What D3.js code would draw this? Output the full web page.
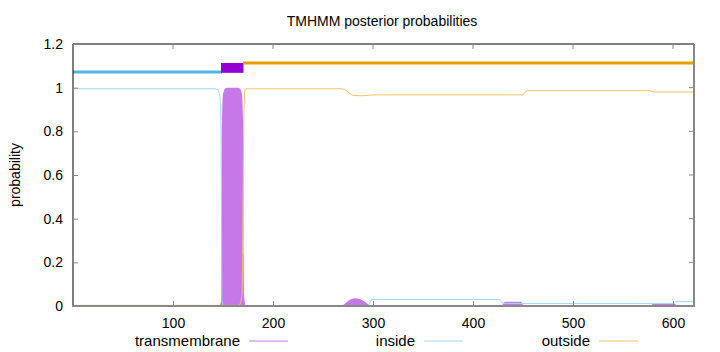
<!DOCTYPE html>
<html>
<head>
<meta charset="utf-8">
<script src="https://cdn.jsdelivr.net/npm/d3@7"></script>
<style>
body{margin:0;background:#fff;}
text{font-family:"Liberation Sans",Arial,sans-serif;}
</style>
</head>
<body>
<div id="chart"></div>
<script>
// posterior probabilities, breakpoints
var tmPos=[1,146,148,149,150,152,154,165,167,169,170,171,173,212,214,228,230,268,274,282,290,296,298,428,432,448,451,578,580,602,604,621];
var tmVal=[0,0,0.02,0.85,0.97,0.995,1,1,0.995,0.97,0.85,0.05,0,0,0.004,0.004,0,0,0.02,0.035,0.025,0.005,0,0,0.02,0.02,0,0,0.01,0.01,0,0];

var inPos=[1,141,145,147,148,149,151,295,298,300,426,430,600,603,621];
var inVal=[0.995,0.995,0.99,0.95,0.8,0.02,0,0,0.025,0.03,0.03,0.012,0.012,0.02,0.02];

var outPos=[1,166,169,171,172,174,268,272,280,290,300,450,452,454,578,580,621];
var outVal=[0.003,0.003,0.05,0.9,0.99,0.995,0.995,0.99,0.965,0.963,0.967,0.967,0.98,0.986,0.986,0.98,0.98];

// predicted topology on top
var topoType=["inside","TMhelix","outside"];
var topoStart=[1,149,171];
var topoEnd=[148,170,621];

var xTicks=[100,200,300,400,500,600];
var yTicks=[0,0.2,0.4,0.6,0.8,1,1.2];
var legendNames=["transmembrane","inside","outside"];

var width=720,height=352;
var svg=d3.select("#chart").append("svg").attr("width",width).attr("height",height);

var x=d3.scaleLinear().domain([0,621]).range([73,694]);
var y=d3.scaleLinear().domain([0,1.2]).range([306,44]);

var cTm="#c678e8",cIn="#9fd6f2",cOut="#f3c26a";

function pts(p,v){return p.map(function(d,i){return [d,v[i]];});}

// transmembrane drawn as filled impulses
var area=d3.area().x(function(d){return x(d[0]);}).y0(y(0)).y1(function(d){return y(d[1]);}).curve(d3.curveMonotoneX);
svg.append("path").attr("d",area(pts(tmPos,tmVal))).attr("fill",cTm);

var line=d3.line().x(function(d){return x(d[0]);}).y(function(d){return y(d[1]);}).curve(d3.curveMonotoneX);
svg.append("path").attr("d",line(pts(inPos,inVal))).attr("fill","none").attr("stroke",cIn).attr("stroke-width",1);
svg.append("path").attr("d",line(pts(outPos,outVal))).attr("fill","none").attr("stroke",cOut).attr("stroke-width",1);

// topology bar
topoType.forEach(function(t,i){
	if(t=="TMhelix"){
		svg.append("rect").attr("x",x(topoStart[i])-1).attr("y",y(1.113))
			.attr("width",x(topoEnd[i])-x(topoStart[i])+1.5).attr("height",y(1.068)-y(1.113))
			.attr("fill","#9400d3");
	}else{
		var yy=t=="inside"?y(1.072):y(1.113);
		svg.append("line").attr("x1",x(topoStart[i])-1).attr("x2",x(topoEnd[i])+1)
			.attr("y1",yy).attr("y2",yy)
			.attr("stroke",t=="inside"?"#56b4e9":"#e69f00").attr("stroke-width",3);
	}
});

// frame
svg.append("line").attr("x1",73).attr("x2",73).attr("y1",44).attr("y2",306).attr("stroke","#000");
svg.append("line").attr("x1",73).attr("x2",694).attr("y1",44).attr("y2",44).attr("stroke","#000");
svg.append("line").attr("x1",694).attr("x2",694).attr("y1",44).attr("y2",307).attr("stroke","#888").attr("stroke-width",2);
svg.append("line").attr("x1",72).attr("x2",695).attr("y1",306).attr("y2",306).attr("stroke","#888").attr("stroke-width",2);

// axes
var xa=svg.append("g").attr("transform","translate(0,306)")
	.call(d3.axisBottom(x).tickValues(xTicks).tickSizeInner(-5).tickSizeOuter(0).tickPadding(12));
var ya=svg.append("g").attr("transform","translate(73,0)")
	.call(d3.axisLeft(y).tickValues(yTicks).tickSizeInner(-5).tickSizeOuter(0).tickPadding(10).tickFormat(d3.format("~g")));
[xa,ya].forEach(function(a){
	a.select(".domain").remove();
	a.selectAll("line").attr("stroke","#888");
	a.selectAll("text").attr("font-size",14).attr("fill","#000").attr("font-family","Liberation Sans,Arial,sans-serif");
});
// mirrored ticks
svg.selectAll(".mx").data(xTicks).enter().append("line")
	.attr("x1",x).attr("x2",x).attr("y1",44).attr("y2",49).attr("stroke","#888");
svg.selectAll(".my").data(yTicks).enter().append("line")
	.attr("x1",689).attr("x2",694).attr("y1",y).attr("y2",y).attr("stroke","#888");

// titles
svg.append("text").attr("x",382).attr("y",26).attr("text-anchor","middle").attr("font-size",14).text("TMHMM posterior probabilities");
svg.append("text").attr("transform","translate(20,175) rotate(-90)").attr("text-anchor","middle").attr("font-size",14).text("probability");

// legend
var legColors=[cTm,cIn,cOut];
legendNames.forEach(function(n,i){
	var lx=240+i*175;
	svg.append("text").attr("x",lx).attr("y",346).attr("text-anchor","end").attr("font-size",15).text(n);
	svg.append("line").attr("x1",lx+9).attr("x2",lx+48).attr("y1",341).attr("y2",341).attr("stroke",legColors[i]).attr("stroke-width",1);
});
</script>
</body>
</html>
